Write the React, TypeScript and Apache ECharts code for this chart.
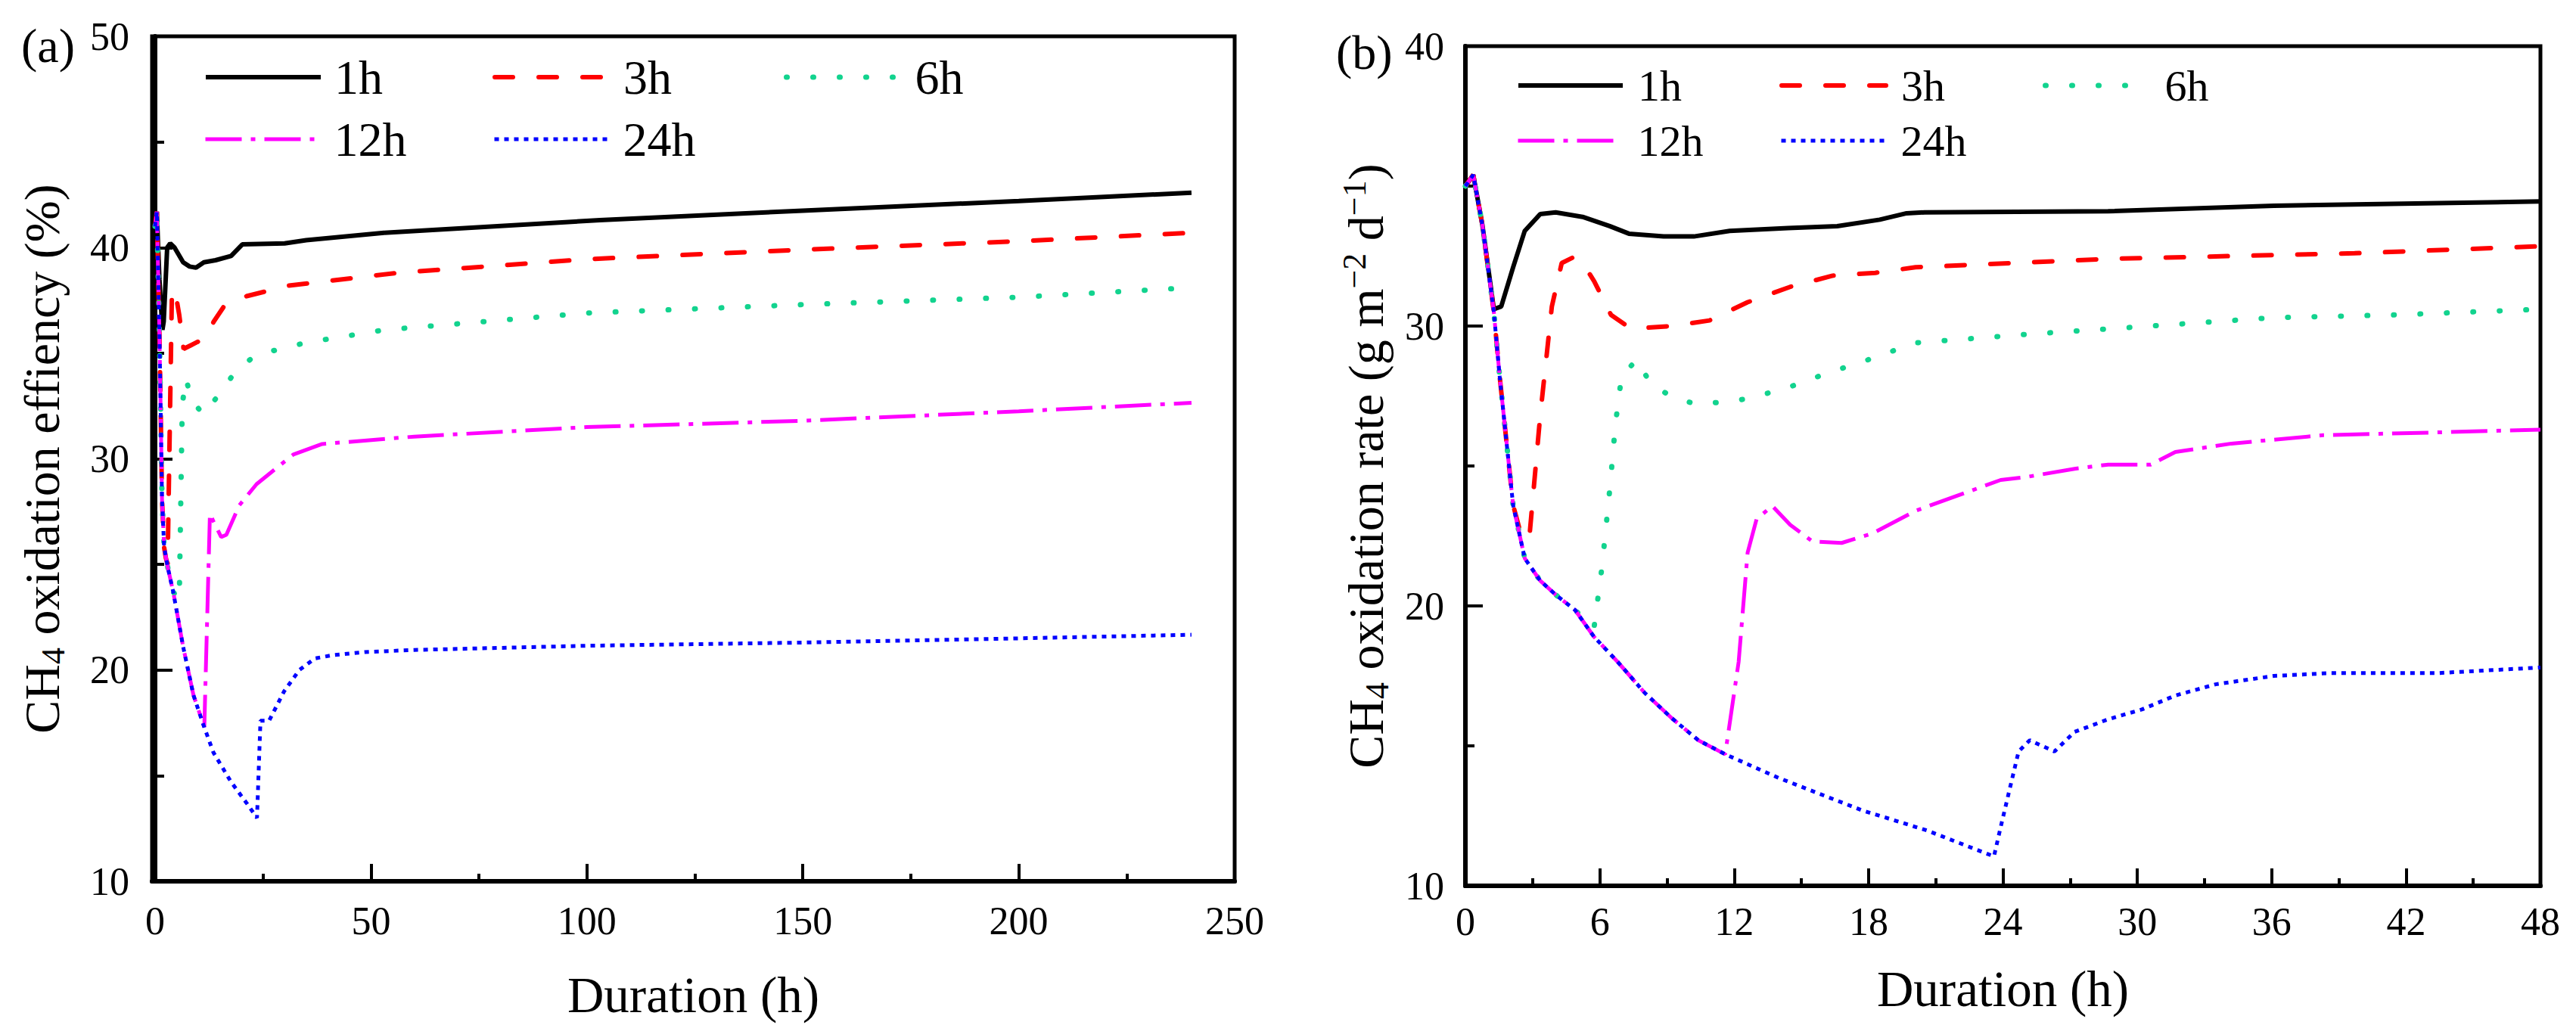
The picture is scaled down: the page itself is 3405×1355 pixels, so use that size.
import React, { useEffect, useRef } from "react";
import * as echarts from "echarts";

// ---------- data ----------
const seriesNames = ["1h", "3h", "6h", "12h", "24h"];

// (a) CH4 oxidation efficiency (%) vs duration (h)
const xMajorA = [0, 50, 100, 150, 200, 250];
const xMinorA = [25, 75, 125, 175, 225];

const effA_1h = [
  [0, 41.0], [0.4, 41.7], [1.0, 38.5], [1.7, 36.1], [2.0, 36.5], [2.8, 40.0], [3.5, 40.2],
  [4.5, 40.0], [6.5, 39.3], [8, 39.1], [9.5, 39.05], [11.3, 39.3], [14, 39.4], [17.6, 39.6],
  [20.2, 40.15], [30, 40.2], [35, 40.35], [53, 40.7], [103, 41.3], [150, 41.75], [200, 42.2],
  [240, 42.6],
];
const effA_3h = [
  [0, 41.0], [0.4, 41.7], [1.0, 36.0], [1.3, 32.2], [1.6, 28.1], [2.1, 25.8], [2.5, 25.3],
  [2.9, 25.0], [3.9, 37.9], [4.6, 38.0], [5.6, 36.8], [6.6, 35.2], [9.5, 35.5], [11.5, 35.7],
  [13.6, 36.5], [15.9, 37.2], [21.2, 37.7], [31, 38.2], [56, 38.8], [100, 39.45], [150, 39.9],
  [200, 40.3], [240, 40.7],
];
const effA_6h = [
  [0, 41.0], [0.4, 41.7], [1.0, 36.0], [1.3, 32.2], [1.6, 28.1], [2.1, 25.8], [3.0, 24.8],
  [4.2, 23.7], [5.6, 23.3], [6.3, 32.6], [7.2, 33.8], [8.3, 32.8], [11.2, 32.1], [15, 33.1],
  [18.5, 34.1], [23.2, 34.9], [29, 35.2], [35, 35.5], [41, 35.7], [53, 36.1], [100, 36.9],
  [150, 37.3], [200, 37.65], [240, 38.1],
];
const effA_12h = [
  [0, 41.0], [0.4, 41.7], [1.0, 36.0], [1.3, 32.2], [1.6, 28.1], [2.1, 25.8], [3.0, 24.8],
  [4.2, 23.7], [5.0, 22.8], [6.5, 21.1], [8.9, 18.8], [11.4, 17.3], [12.7, 27.4], [13.6, 27.0],
  [15.3, 26.3], [16.5, 26.4], [19.5, 27.8], [23.5, 28.8], [32, 30.2], [38.7, 30.7], [60, 31.05],
  [100, 31.5], [150, 31.8], [200, 32.25], [240, 32.65],
];
const effA_24h = [
  [0, 41.0], [0.4, 41.7], [1.0, 36.0], [1.3, 32.2], [1.6, 28.1], [2.1, 25.8], [3.0, 24.8],
  [4.2, 23.7], [5.0, 22.8], [6.5, 21.1], [8.9, 18.8], [11.2, 17.4], [13.5, 16.1], [17.6, 14.7],
  [21.2, 13.7], [23.6, 13.0], [24.4, 17.6], [26.4, 17.6], [29.9, 19.0], [33.4, 20.0], [37, 20.55],
  [41, 20.7], [48.6, 20.85], [60, 20.95], [100, 21.15], [150, 21.3], [200, 21.5], [240, 21.67],
];

// (b) CH4 oxidation rate (g m-2 d-1) vs duration (h)
const rateB_1h = [
  [0, 35.0], [0.35, 35.4], [0.76, 33.6], [1.27, 30.6], [1.6, 30.7], [2.13, 32.1], [2.65, 33.4],
  [3.34, 34.0], [4.03, 34.06], [5.23, 33.9], [6.44, 33.57], [7.3, 33.3], [8.85, 33.2],
  [10.2, 33.2], [11.8, 33.4], [14.4, 33.5], [16.6, 33.57], [18.5, 33.8], [19.7, 34.03],
  [20.5, 34.06], [28.7, 34.1], [36.1, 34.3], [48, 34.45],
];
const rateB_3h = [
  [0, 35.0], [0.35, 35.4], [0.76, 33.6], [1.27, 30.5], [1.53, 28.2], [1.79, 26.2], [2.13, 23.6],
  [2.5, 22.5], [2.85, 22.4], [3.34, 26.8], [3.86, 30.7], [4.3, 32.25], [4.8, 32.45], [5.2, 32.3],
  [5.75, 31.6], [6.5, 30.4], [7.4, 29.9], [9.2, 30.0], [10.9, 30.2], [12.6, 30.85], [14.5, 31.4],
  [16.4, 31.8], [18.3, 31.9], [20.1, 32.1], [28.7, 32.4], [39.7, 32.6], [48, 32.85],
];
const rateB_6h = [
  [0, 35.0], [0.35, 35.4], [0.76, 33.6], [1.27, 30.5], [1.53, 28.2], [1.79, 26.2], [2.13, 23.6],
  [2.65, 21.7], [3.34, 20.9], [4.03, 20.4], [4.9, 19.85], [5.74, 19.2], [6.1, 21.4], [6.45, 24.2],
  [6.7, 26.5], [6.97, 28.2], [7.65, 28.8], [8.3, 27.9], [9.4, 27.4], [10.4, 27.2], [11.6, 27.3],
  [12.6, 27.4], [14.4, 27.8], [16.1, 28.3], [18, 28.8], [20.1, 29.4], [25, 29.7], [30.6, 30.0],
  [36.1, 30.3], [41.6, 30.4], [48, 30.6],
];
const rateB_12h = [
  [0, 35.0], [0.35, 35.4], [0.76, 33.6], [1.27, 30.5], [1.53, 28.2], [1.79, 26.2], [2.13, 23.6],
  [2.65, 21.7], [3.34, 20.9], [4.03, 20.4], [4.9, 19.85], [5.74, 18.9], [6.8, 18.0], [8.0, 16.9],
  [9.2, 16.0], [10.4, 15.2], [11.6, 14.7], [12.2, 18.0], [12.6, 21.9], [13.0, 23.1], [13.7, 23.57],
  [14.5, 22.9], [15.5, 22.3], [16.8, 22.25], [18.2, 22.6], [20.1, 23.4], [23.9, 24.5], [25, 24.6],
  [27.2, 24.9], [28.7, 25.05], [30.6, 25.05], [31.7, 25.5], [34.2, 25.8], [38.3, 26.1],
  [43.4, 26.2], [48, 26.3],
];
const rateB_24h = [
  [0, 35.0], [0.35, 35.4], [0.76, 33.6], [1.27, 30.5], [1.53, 28.2], [1.79, 26.2], [2.13, 23.6],
  [2.65, 21.7], [3.34, 20.9], [4.03, 20.4], [4.9, 19.85], [5.74, 18.9], [6.8, 18.0], [8.0, 16.9],
  [9.2, 16.0], [10.4, 15.2], [11.6, 14.7], [14, 13.85], [17.7, 12.7], [20.6, 11.98], [23.6, 11.05],
  [23.9, 12.1], [24.7, 14.8], [25.2, 15.2], [26.3, 14.8], [27.2, 15.5], [28.7, 15.95], [30.2, 16.3],
  [31.7, 16.8], [33.5, 17.2], [36.1, 17.5], [38.6, 17.6], [43.4, 17.6], [48, 17.8],
];

const dataA = [effA_1h, effA_3h, effA_6h, effA_12h, effA_24h];
const dataB = [rateB_1h, rateB_3h, rateB_6h, rateB_12h, rateB_24h];

// ---------- styles ----------
const FONT = "Liberation Serif";
const lineStyles: any[] = [
  { color: "#000000", width: 6, type: "solid" },
  { color: "#ff0000", width: 6, type: [24, 34], cap: "round" },
  { color: "#12d38e", width: 7, type: [1, 34], cap: "round" },
  { color: "#ff00ff", width: 5, type: [48, 12, 6, 12] },
  { color: "#0000ff", width: 5, type: [6, 7] },
];

export default function App() {
  const ref = useRef<HTMLDivElement>(null);
  useEffect(() => {
    if (!ref.current) return;
    const chart = echarts.init(ref.current, null, { renderer: "svg" });

    const tickLabel = { color: "#000", fontSize: 52, fontFamily: FONT };
    const axisLine = { show: true, lineStyle: { color: "#000", width: 6 } };
    const majorTick = { show: true, inside: true, length: 23, lineStyle: { color: "#000", width: 4 } };
    const minorTickY = { show: true, splitNumber: 2, length: 12, lineStyle: { color: "#000", width: 4 } };

    const series: any[] = [];
    seriesNames.forEach((n, i) => {
      series.push({
        name: n, type: "line", xAxisIndex: 0, yAxisIndex: 0, data: dataA[i],
        symbol: "none", showSymbol: false, color: lineStyles[i].color,
        lineStyle: lineStyles[i], z: 2 + i,
      });
    });
    seriesNames.forEach((n, i) => {
      series.push({
        name: n, type: "line", xAxisIndex: 2, yAxisIndex: 1, data: dataB[i],
        symbol: "none", showSymbol: false, color: lineStyles[i].color,
        lineStyle: lineStyles[i], z: 2 + i,
      });
    });

    const legendA = [
      { n: "1h", l: 269, t: 70 }, { n: "3h", l: 651, t: 70 }, { n: "6h", l: 1036, t: 70 },
      { n: "12h", l: 269, t: 152 }, { n: "24h", l: 651, t: 152 },
    ];
    const legendB = [
      { n: "1h", l: 2004, t: 84 }, { n: "3h", l: 2352, t: 84 }, { n: "6h", l: 2700, t: 84 },
      { n: "12h", l: 2004, t: 157 }, { n: "24h", l: 2352, t: 157 },
    ];
    const legends: any[] = [];
    const mkLegend = (g: any, w: number, fs: number, pad: number) => {
      const i = seriesNames.indexOf(g.n);
      return {
        data: [g.n], left: g.l, top: g.t, padding: 0,
        itemWidth: w, itemHeight: 14, selectedMode: false,
        itemStyle: { opacity: 0, color: "rgba(0,0,0,0)", borderWidth: 0 },
        lineStyle: { ...lineStyles[i] },
        textStyle: { fontSize: fs, lineHeight: fs, fontFamily: FONT, color: "#000", padding: [0, 0, 0, pad] },
      };
    };
    legendA.forEach((g) => legends.push(mkLegend(g, 152, 64, 13)));
    legendB.forEach((g) => legends.push(mkLegend(g, 138, 58, 15)));

    const option: any = {
      animation: false,
      backgroundColor: "#ffffff",
      textStyle: { fontFamily: FONT },
      grid: [
        { left: 201, top: 48, width: 1431, height: 1117, show: true, borderColor: "#000", borderWidth: 5, backgroundColor: "transparent" },
        { left: 1937, top: 61, width: 1421, height: 1110, show: true, borderColor: "#000", borderWidth: 5, backgroundColor: "transparent" },
      ],
      xAxis: [
        {
          gridIndex: 0, type: "value", min: -0.7, max: 250, position: "bottom",
          axisLine, splitLine: { show: false },
          axisTick: { ...majorTick, customValues: xMajorA },
          axisLabel: { ...tickLabel, margin: 26, customValues: xMajorA },
          name: "Duration (h)", nameLocation: "middle", nameGap: 116,
          nameTextStyle: { fontSize: 67, fontFamily: FONT, color: "#000" },
        },
        {
          gridIndex: 0, type: "value", min: -0.7, max: 250, position: "bottom",
          axisLine: { show: false }, splitLine: { show: false },
          axisTick: { show: true, inside: true, length: 10, lineStyle: { color: "#000", width: 4 }, customValues: xMinorA },
          axisLabel: { show: false },
        },
        {
          gridIndex: 1, type: "value", min: 0, max: 48, interval: 6, position: "bottom",
          axisLine, splitLine: { show: false },
          axisTick: majorTick,
          minorTick: { show: true, splitNumber: 2, length: 10, lineStyle: { color: "#000", width: 4 } },
          axisLabel: { ...tickLabel, margin: 21 },
          name: "Duration (h)", nameLocation: "middle", nameGap: 102,
          nameTextStyle: { fontSize: 67, fontFamily: FONT, color: "#000" },
        },
      ],
      yAxis: [
        {
          gridIndex: 0, type: "value", min: 10, max: 50, interval: 10,
          axisLine, splitLine: { show: false },
          axisTick: majorTick, minorTick: minorTickY,
          axisLabel: { ...tickLabel, margin: 30 },
          name: "CH{sub|4} oxidation effiency (%)", nameLocation: "middle", nameGap: 109,
          nameTextStyle: {
            fontSize: 66, fontFamily: FONT, color: "#000",
            rich: { sub: { fontSize: 44, fontFamily: FONT, color: "#000", padding: [30, 0, 0, 0] } },
          },
        },
        {
          gridIndex: 1, type: "value", min: 10, max: 40, interval: 10,
          axisLine, splitLine: { show: false },
          axisTick: majorTick, minorTick: minorTickY,
          axisLabel: { ...tickLabel, margin: 28 },
          name: "CH{sub|4} oxidation rate (g m{sup|\u22122} d{sup|\u22121})", nameLocation: "middle", nameGap: 95,
          nameTextStyle: {
            fontSize: 66, fontFamily: FONT, color: "#000",
            rich: {
              sub: { fontSize: 44, fontFamily: FONT, color: "#000", padding: [30, 0, 0, 0] },
              sup: { fontSize: 44, fontFamily: FONT, color: "#000", padding: [0, 0, 30, 0] },
            },
          },
        },
      ],
      legend: legends,
      graphic: [
        { type: "text", x: 28, y: 60, style: { text: "(a)", font: `64px "${FONT}"`, fill: "#000", textAlign: "left", textVerticalAlign: "middle" } },
        { type: "text", x: 1766, y: 69, style: { text: "(b)", font: `64px "${FONT}"`, fill: "#000", textAlign: "left", textVerticalAlign: "middle" } },
      ],
      series,
    };
    chart.setOption(option);
    return () => chart.dispose();
  }, []);

  return (
    <div
      ref={ref}
      style={{ position: "fixed", left: 0, top: 0, width: 3405, height: 1355, background: "#fff" }}
    />
  );
}
